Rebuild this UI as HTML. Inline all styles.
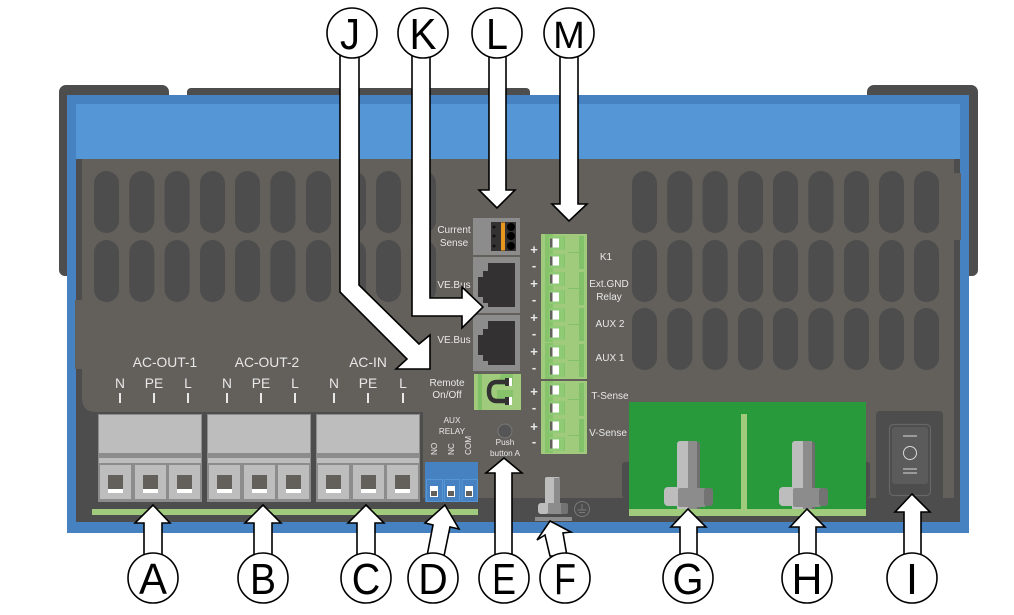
<!DOCTYPE html>
<html><head><meta charset="utf-8"><style>
html,body{margin:0;padding:0;background:#fff}
svg{display:block}
text{font-family:"Liberation Sans",sans-serif}
.l{fill:#e8e8e8;text-anchor:middle}
.a{fill:#fff;stroke:#000;stroke-width:1.6;stroke-linejoin:miter}
.c{fill:#fff;stroke:#000;stroke-width:1.6}
.t{fill:#000;font-size:44px;text-anchor:middle}
</style></head><body>
<svg width="1014" height="615" viewBox="0 0 1014 615" xmlns="http://www.w3.org/2000/svg">
<defs>
<rect id="v" width="25" height="62" rx="12.5" fill="#4d4d4d"/>
<g id="vc"><use href="#v" x="0"/><use href="#v" x="35.3"/><use href="#v" x="70.6"/><use href="#v" x="106"/><use href="#v" x="141"/><use href="#v" x="176.4"/><use href="#v" x="212"/><use href="#v" x="247"/><use href="#v" x="282"/></g>
<g id="tb"><rect x="0" y="0" width="31" height="34" fill="#bdbdbd"/><rect x="8" y="10" width="15" height="14" fill="#63605b"/><rect x="8" y="24" width="15" height="4" fill="#fff"/></g>
<g id="block"><rect width="104" height="88" fill="#8c8c8c"/><rect x="1" y="1" width="102" height="38" fill="#bdbdbd"/><rect x="1" y="44" width="102" height="5" fill="#bdbdbd"/><use href="#tb" x="2" y="51"/><use href="#tb" x="37" y="51"/><use href="#tb" x="71" y="51"/></g>
<g id="jack"><rect width="47" height="56" fill="#8c8c8c"/><polygon points="15,6 42,6 42,50 15,50 15,46 10,46 10,40 5,40 5,20 10,20 10,14 15,14" fill="#333132"/></g>
<g id="pin"><rect x="0" y="-4.5" width="3" height="9" fill="#63605b"/><rect x="2.5" y="-4.5" width="6.5" height="9" fill="#fff"/></g>
<g id="cell"><polygon points="0,-9 8,-9 8,-7 20,-7 20,7 8,7 8,9 0,9" fill="#86c36a"/><polygon points="4,-7 19,-7 19,7 4,7" fill="#8fca74"/></g>
<g id="bolt"><path d="M0 68V3a3 3 0 0 1 3-3H12V68Z" fill="#bdbdbd"/><rect x="11" y="0" width="9" height="68" fill="#8c8c8c"/><path d="M20 1H21a2 2 0 0 1 2 2V68H20Z" fill="#6f6f6f"/><rect x="-13" y="46" width="17" height="19" rx="4" fill="#bdbdbd"/><rect x="1" y="47" width="28" height="19" rx="2" fill="#8c8c8c"/><rect x="27" y="47" width="9" height="18" rx="3" fill="#737373"/></g>
</defs>

<!-- rear tabs -->
<path d="M59 270V92a7 7 0 0 1 7-7H162a7 7 0 0 1 7 7V100H77V276H65a6 6 0 0 1-6-6Z" fill="#4d4d4d"/>
<path d="M187 100V92a4 4 0 0 1 4-4H526a4 4 0 0 1 4 4V100Z" fill="#4d4d4d"/>
<path d="M867 100V92a7 7 0 0 1 7-7H971a7 7 0 0 1 7 7V270a6 6 0 0 1-6 6H960V100Z" fill="#4d4d4d"/>
<!-- blue body -->
<rect x="67" y="95" width="902" height="438" fill="#4682c2"/>
<rect x="76" y="104" width="884" height="56" fill="#5596d6"/>
<!-- dark base -->
<rect x="76" y="159" width="884" height="363" fill="#4d4d4d"/>
<!-- gray panel -->
<path d="M82 159H954V173H961V240H954V498H423V412H96Q82 412 82 398V369H75V300H82Z" fill="#63605b"/>
<rect x="622" y="462" width="248" height="36" rx="3" fill="#4d4d4d"/>
<rect x="424" y="498" width="200" height="24" fill="#4d4d4d"/>

<!-- vents left -->
<use href="#vc" x="94" y="171"/><use href="#vc" x="94" y="240"/>
<use href="#v" x="411" y="171"/><use href="#v" x="411" y="240"/>
<!-- vents right -->
<use href="#vc" x="632" y="171"/><use href="#vc" x="632" y="240"/><use href="#vc" x="632" y="308"/>

<!-- terminals -->
<use href="#block" x="98" y="414"/><use href="#block" x="207" y="414"/><use href="#block" x="316" y="414"/>
<rect x="92" y="509" width="386" height="6" fill="#a0cb7c"/>

<!-- aux relay -->
<rect x="425" y="462" width="53" height="40" fill="#4682c2"/>
<g fill="#4682c2" stroke="#5596d6" stroke-width="1"><rect x="426.5" y="479.5" width="16" height="22"/><rect x="444.5" y="479.5" width="15" height="22"/><rect x="462" y="479.5" width="15.5" height="22"/></g>
<g fill="#fff"><rect x="430" y="486" width="8" height="11"/><rect x="447" y="486" width="8" height="11"/><rect x="465" y="486" width="8" height="11"/></g>
<g fill="#63605b"><rect x="431" y="491" width="6" height="5"/><rect x="448" y="491" width="6" height="5"/><rect x="466" y="491" width="6" height="5"/></g>

<!-- current sense -->
<rect x="473" y="218" width="47" height="37" fill="#8c8c8c"/>
<rect x="491" y="222" width="25" height="29" fill="#333132"/>
<rect x="501" y="222.5" width="4" height="28" fill="#e8961e"/>
<circle cx="511" cy="227" r="4" fill="#000"/><circle cx="511" cy="236" r="4" fill="#000"/><circle cx="511" cy="246" r="4" fill="#000"/>
<g fill="#111"><circle cx="494" cy="227" r="1.5"/><circle cx="494" cy="236" r="1.5"/><circle cx="494" cy="246" r="1.5"/></g>
<!-- jacks -->
<use href="#jack" x="473" y="257"/><use href="#jack" x="473" y="315"/>

<!-- remote connector -->
<rect x="474" y="374" width="47" height="36" fill="#a0cb7c"/>
<rect x="478" y="374" width="4" height="36" fill="#7fbf65"/>
<polygon points="497,385 513,385 513,374 501,374" fill="#86c36a"/>
<polygon points="497,390 513,390 513,399 497,399" fill="#86c36a"/>
<path d="M507 382H497Q489 382 489 391.5Q489 401 497 401H507" fill="none" stroke="#333132" stroke-width="4.5"/>
<rect x="505" y="378" width="4" height="8" fill="#333132"/><rect x="505" y="397" width="4" height="8" fill="#333132"/>
<rect x="509" y="378" width="3" height="8" fill="#fff"/><rect x="509" y="397" width="3" height="8" fill="#fff"/>

<!-- green multi connector -->
<rect x="541" y="234" width="46" height="145" fill="#a0cb7c"/>
<rect x="541" y="381" width="46" height="73" fill="#a0cb7c"/>
<g fill="#82c069"><rect x="579" y="236" width="5" height="33"/><rect x="579" y="272" width="5" height="33"/><rect x="579" y="308" width="5" height="33"/><rect x="579" y="344" width="5" height="33"/><rect x="579" y="383" width="5" height="33"/><rect x="579" y="419" width="5" height="33"/></g>
<g fill="#82c069"><rect x="568" y="252" width="11" height="1"/><rect x="568" y="288" width="11" height="1"/><rect x="568" y="324" width="11" height="1"/><rect x="568" y="360" width="11" height="1"/><rect x="568" y="399" width="11" height="1"/><rect x="568" y="435" width="11" height="1"/></g>
<use href="#cell" x="545" y="243"/><use href="#cell" x="545" y="261"/><use href="#cell" x="545" y="279"/><use href="#cell" x="545" y="297"/><use href="#cell" x="545" y="315"/><use href="#cell" x="545" y="333"/><use href="#cell" x="545" y="352"/><use href="#cell" x="545" y="370"/><use href="#cell" x="545" y="390"/><use href="#cell" x="545" y="408"/><use href="#cell" x="545" y="426"/><use href="#cell" x="545" y="444"/>
<use href="#pin" x="550" y="243"/><use href="#pin" x="550" y="261"/><use href="#pin" x="550" y="279"/><use href="#pin" x="550" y="297"/><use href="#pin" x="550" y="315"/><use href="#pin" x="550" y="333"/><use href="#pin" x="550" y="352"/><use href="#pin" x="550" y="370"/><use href="#pin" x="550" y="390"/><use href="#pin" x="550" y="408"/><use href="#pin" x="550" y="426"/><use href="#pin" x="550" y="444"/>

<!-- push button -->
<circle cx="505" cy="431" r="7" fill="#555" stroke="#787878" stroke-width="1"/>

<!-- ground bolt -->
<rect x="545" y="477" width="15" height="27" rx="2" fill="#bdbdbd"/><rect x="554" y="478" width="6" height="26" fill="#8c8c8c"/>
<rect x="538" y="503" width="11" height="11" rx="3" fill="#bdbdbd"/><rect x="548" y="503" width="14" height="11" fill="#8c8c8c"/><rect x="561" y="503" width="7" height="11" rx="2" fill="#737373"/>
<rect x="535" y="517" width="37" height="4" fill="#8c8c8c"/>
<g fill="none" stroke="#7a7a7a" stroke-width="1"><circle cx="582" cy="509" r="7.5"/><path d="M582 504V510M577.5 510H586.5M579 512.5H585"/></g>

<!-- busbars -->
<rect x="629" y="402" width="237" height="114" fill="#289a3c"/>
<rect x="629" y="509" width="237" height="7" fill="#a0cb7c"/>
<rect x="741" y="414" width="6" height="96" fill="#a0cb7c"/>
<use href="#bolt" x="677" y="441"/><use href="#bolt" x="792" y="441"/>

<!-- switch -->
<path d="M876 498V415a4 4 0 0 1 4-4H939a4 4 0 0 1 4 4V498Z" fill="#4d4d4d"/>
<rect x="889.5" y="424.5" width="41" height="71" rx="4" fill="#4d4d4d" stroke="#666" stroke-width="1.2"/>
<rect x="892" y="427" width="36" height="57" rx="3" fill="#5b5b5b"/>
<g fill="none" stroke="#d8d8d8" stroke-width="1"><path d="M903 436H917M903 469H917M903 473H917"/><circle cx="910" cy="453" r="6.5"/></g>

<!-- labels -->
<g class="l" font-size="13.8">
<text x="165" y="367">AC-OUT-1</text><text x="267" y="367">AC-OUT-2</text><text x="368" y="367">AC-IN</text>
<text x="120" y="388">N</text><text x="154" y="388">PE</text><text x="188" y="388">L</text>
<text x="227" y="388">N</text><text x="261" y="388">PE</text><text x="295" y="388">L</text>
<text x="334" y="388">N</text><text x="368" y="388">PE</text><text x="403" y="388">L</text>
</g>
<g fill="#e8e8e8"><rect x="119" y="393" width="2" height="10"/><rect x="153" y="393" width="2" height="10"/><rect x="187" y="393" width="2" height="10"/><rect x="226" y="393" width="2" height="10"/><rect x="260" y="393" width="2" height="10"/><rect x="294" y="393" width="2" height="10"/><rect x="333" y="393" width="2" height="10"/><rect x="367" y="393" width="2" height="10"/><rect x="402" y="393" width="2" height="10"/></g>
<g class="l" font-size="10">
<text x="454" y="233">Current</text><text x="454" y="246">Sense</text>
<text x="454" y="288">VE.Bus</text><text x="454" y="343">VE.Bus</text>
<text x="447" y="386">Remote</text><text x="447" y="398">On/Off</text>
<text x="606" y="260">K1</text><text x="609" y="287">Ext.GND</text><text x="609" y="300">Relay</text>
<text x="610" y="327">AUX 2</text><text x="610" y="361">AUX 1</text>
<text x="610" y="399">T-Sense</text><text x="608" y="436">V-Sense</text>
</g>
<g class="l" font-size="8.2">
<text x="452" y="423">AUX</text><text x="452" y="434">RELAY</text>
<text x="505" y="445">Push</text><text x="505" y="456">button A</text>
<text transform="translate(437 455) rotate(-90)" style="text-anchor:start">NO</text>
<text transform="translate(454 455) rotate(-90)" style="text-anchor:start">NC</text>
<text transform="translate(471 455) rotate(-90)" style="text-anchor:start">COM</text>
</g>
<g class="l" font-size="13" font-weight="bold">
<text x="534" y="254">+</text><text x="534" y="270">-</text><text x="534" y="288">+</text><text x="534" y="304">-</text><text x="534" y="322">+</text><text x="534" y="338">-</text><text x="534" y="356">+</text><text x="534" y="372">-</text><text x="534" y="396">+</text><text x="534" y="412">-</text><text x="534" y="431">+</text><text x="534" y="446">-</text>
</g>

<!-- arrows -->
<polygon class="a" points="153,505 170,523 162,523 162,556 144,556 144,523 135,523"/>
<polygon class="a" points="263,505 281,523 272,523 272,556 254,556 254,523 245,523"/>
<polygon class="a" points="366,505 384,523 375,523 375,556 357,556 357,523 348,523"/>
<polygon class="a" points="445,505 459,529 450,527 444,556 427,556 433,525 425,523"/>
<polygon class="a" points="504,458 522,473 512,473 512,556 495,556 495,473 486,473"/>
<polygon class="a" points="550,521 571,532 563,533 567,556 550,556 545,535 537,540"/>
<polygon class="a" points="688,509 706,527 697,527 697,556 680,556 680,527 671,527"/>
<polygon class="a" points="807,509 825,527 816,527 816,556 799,556 799,527 790,527"/>
<polygon class="a" points="912,494 930,512 921,512 921,556 904,556 904,512 895,512"/>
<polygon class="a" points="340,50 359,50 359,285 419,344 430,335 430,369 396,369 407,359 340,292"/>
<polygon class="a" points="412,50 430,50 430,298 462,298 462,287 483,307 462,328 462,316 412,316"/>
<polygon class="a" points="489,50 506,50 506,190 515,190 497,208 479,190 489,190"/>
<polygon class="a" points="560,50 578,50 578,204 587,204 569,221 552,204 560,204"/>

<!-- circles -->
<circle class="c" cx="352" cy="33" r="25"/><text class="t" x="350" y="49" textLength="20" lengthAdjust="spacingAndGlyphs">J</text>
<circle class="c" cx="423" cy="33" r="25"/><text class="t" x="423" y="49" textLength="27" lengthAdjust="spacingAndGlyphs">K</text>
<circle class="c" cx="497" cy="33" r="25"/><text class="t" x="497" y="49" textLength="22" lengthAdjust="spacingAndGlyphs">L</text>
<circle class="c" cx="569" cy="33" r="25"/><text class="t" x="569" y="48" style="font-size:38px">M</text>
<circle class="c" cx="153" cy="578" r="25"/><text class="t" x="153" y="594" textLength="28" lengthAdjust="spacingAndGlyphs">A</text>
<circle class="c" cx="263" cy="578" r="25"/><text class="t" x="263" y="594" textLength="26" lengthAdjust="spacingAndGlyphs">B</text>
<circle class="c" cx="366" cy="578" r="25"/><text class="t" x="366" y="594" textLength="28.5" lengthAdjust="spacingAndGlyphs">C</text>
<circle class="c" cx="433" cy="578" r="25"/><text class="t" x="433" y="594" textLength="29.5" lengthAdjust="spacingAndGlyphs">D</text>
<circle class="c" cx="504" cy="578" r="25"/><text class="t" x="504" y="594" textLength="24" lengthAdjust="spacingAndGlyphs">E</text>
<circle class="c" cx="565" cy="578" r="25"/><text class="t" x="565" y="594" textLength="22" lengthAdjust="spacingAndGlyphs">F</text>
<circle class="c" cx="688" cy="578" r="25"/><text class="t" x="688" y="594" textLength="31" lengthAdjust="spacingAndGlyphs">G</text>
<circle class="c" cx="807" cy="578" r="25"/><text class="t" x="807" y="594" textLength="31" lengthAdjust="spacingAndGlyphs">H</text>
<circle class="c" cx="912" cy="578" r="25"/><text class="t" x="912" y="594">I</text>
</svg>
</body></html>
